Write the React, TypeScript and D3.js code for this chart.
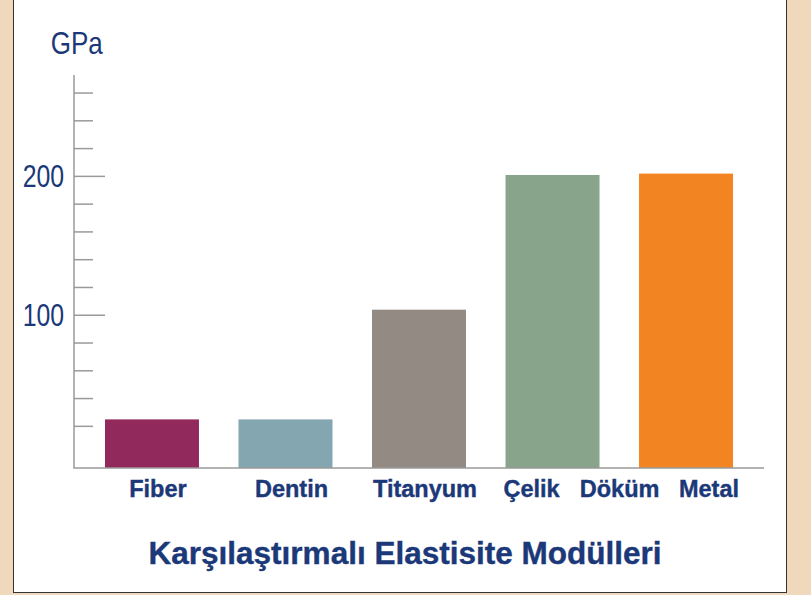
import React from 'react';
import * as d3 from 'd3';

// veriler
const categories = ['Fiber', 'Dentin', 'Titanyum', 'Çelik', 'Döküm Metal'];
const values = [25, 25, 104, 201, 202];
const colors = ['#92295d', '#84a6b0', '#938a84', '#88a48a', '#f28422'];
const tickValues = [20, 40, 60, 80, 100, 120, 140, 160, 180, 200, 220, 240, 260];
const majorTicks = [100, 200];
const unitLabel = 'GPa';
const title = 'Karşılaştırmalı Elastisite Modülleri';

const W = 811;
const H = 595;
const navy = '#1b3878';
const axisGrey = '#9a9a9a';
const font = '"Liberation Sans", Arial, Helvetica, sans-serif';

const App = () => {
    // eksenler
    const left = 74;
    const right = 764;
    const baseY = 468;
    const topY = 75;
    const baseValue = -10;

    const x = d3.scaleBand<string>()
        .domain(categories)
        .range([left, right])
        .paddingInner(0.296)
        .paddingOuter(0.232);

    const y = d3.scaleLinear()
        .domain([baseValue, 273])
        .range([baseY, topY]);

    // etiket konumları (son iki kategori sola kaymış)
    const labelPos = (c: string, i: number) => {
        const b = x(c) || 0;
        const bw = x.bandwidth();
        if (i === categories.length - 1) return { x: b + bw + 6, anchor: 'end' };
        if (i === categories.length - 2) return { x: b + bw / 2 - 21, anchor: 'middle' };
        return { x: b + bw / 2 + 6, anchor: 'middle' };
    };

    return (
        <svg width={W} height={H} viewBox={`0 0 ${W} ${H}`}
            style={{ position: 'absolute', left: 0, top: 0, display: 'block' }}>
            <rect x={0} y={0} width={W} height={H} fill="#f0d8bc" />
            <rect x={13.5} y={-2} width={773} height={594.5} fill="#fff" stroke="#333" strokeWidth={1} />

            {/* birim */}
            <text transform="translate(50.7,54.3) scale(0.84,1)" fontFamily={font} fontSize={31} fill={navy}>
                {unitLabel}
            </text>

            {/* y ekseni */}
            <line x1={left} x2={left} y1={topY} y2={baseY} stroke={axisGrey} strokeWidth={1.5} />
            {tickValues.map(t => (
                <line key={t} x1={left} x2={left + (majorTicks.includes(t) ? 31 : 19)}
                    y1={y(t)} y2={y(t)} stroke={axisGrey} strokeWidth={1.5} />
            ))}
            {majorTicks.map(t => (
                <text key={t} transform={`translate(64,${y(t) + 11}) scale(0.8,1)`}
                    textAnchor="end" fontFamily={font} fontSize={31} fill={navy}>
                    {t}
                </text>
            ))}

            {/* çubuklar */}
            {categories.map((c, i) => (
                <rect key={c} x={x(c)} y={y(values[i])} width={x.bandwidth()}
                    height={y(baseValue) - y(values[i])} fill={colors[i]} />
            ))}

            {/* x ekseni */}
            <line x1={left - 0.75} x2={right} y1={baseY} y2={baseY} stroke={axisGrey} strokeWidth={1.5} />

            {categories.map((c, i) => {
                const p = labelPos(c, i);
                return (
                    <text key={c} x={p.x} y={496.5} textAnchor={p.anchor} fontFamily={font}
                        fontSize={23.5} fontWeight="bold" fill={navy} stroke={navy} strokeWidth={0.4}
                        style={{ wordSpacing: '13px' }}>
                        {c}
                    </text>
                );
            })}

            {/* başlık */}
            <text x={405} y={563.5} textAnchor="middle" fontFamily={font} fontSize={31.5}
                fontWeight="bold" fill={navy} stroke={navy} strokeWidth={0.4}>
                {title}
            </text>
        </svg>
    );
};

export default App;
